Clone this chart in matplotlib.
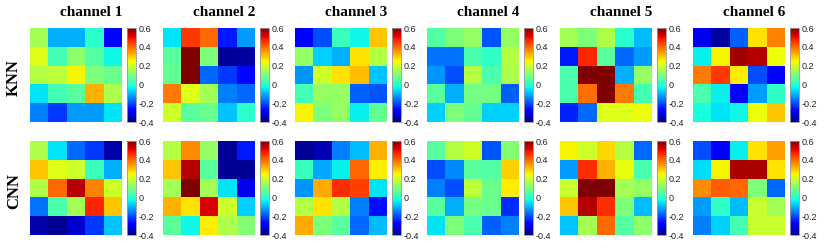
import numpy as np
import matplotlib
matplotlib.use('Agg')
import matplotlib.pyplot as plt

channels = ['channel 1', 'channel 2', 'channel 3', 'channel 4', 'channel 5', 'channel 6']
models = ['KNN', 'CNN']

# KNN weights, one 5x5 grid per channel
knn_ch1 = [[0.15, -0.10, -0.10, 0.00, -0.27],
           [0.22, 0.03, 0.12, 0.05, -0.03],
           [0.17, 0.18, 0.25, 0.10, 0.08],
           [-0.05, 0.03, 0.06, 0.32, 0.16],
           [-0.15, -0.22, -0.12, -0.12, -0.05]]
knn_ch2 = [[-0.05, 0.45, 0.40, -0.25, -0.12],
           [0.06, 0.60, 0.10, -0.38, -0.37],
           [0.07, 0.60, -0.17, -0.22, -0.27],
           [0.38, 0.22, 0.15, -0.15, -0.17],
           [0.20, 0.06, 0.08, -0.08, 0.00]]
knn_ch3 = [[-0.28, -0.20, 0.02, -0.03, 0.30],
           [0.13, -0.07, -0.10, 0.27, 0.17],
           [-0.13, 0.20, 0.27, 0.31, -0.08],
           [0.03, 0.13, 0.13, -0.18, -0.19],
           [0.25, 0.10, 0.13, -0.04, 0.07]]
knn_ch4 = [[0.05, 0.10, 0.13, -0.19, 0.13],
           [-0.16, -0.16, 0.04, 0.01, 0.17],
           [-0.13, -0.20, 0.17, 0.04, 0.16],
           [0.06, -0.10, 0.09, 0.09, -0.18],
           [-0.07, 0.10, 0.07, -0.07, -0.07]]
knn_ch5 = [[0.15, 0.10, 0.16, 0.00, -0.09],
           [-0.25, 0.47, 0.06, -0.17, -0.12],
           [0.04, 0.60, 0.60, -0.10, 0.13],
           [0.04, 0.39, 0.60, 0.38, 0.03],
           [-0.24, -0.17, 0.22, 0.22, 0.24]]
knn_ch6 = [[-0.30, -0.37, -0.18, 0.27, 0.37],
           [-0.04, 0.25, 0.57, 0.55, 0.24],
           [0.38, 0.45, 0.26, -0.20, -0.27],
           [0.04, -0.04, -0.28, -0.12, 0.01],
           [-0.02, -0.05, -0.03, 0.24, 0.30]]

# CNN weights
cnn_ch1 = [[0.16, -0.05, -0.17, -0.22, -0.36],
           [0.30, 0.22, 0.20, 0.02, -0.10],
           [0.16, 0.40, 0.55, 0.37, 0.20],
           [-0.16, 0.04, 0.15, 0.47, 0.30],
           [-0.36, -0.38, -0.33, -0.22, -0.08]]
cnn_ch2 = [[0.17, 0.36, 0.13, -0.38, -0.25],
           [0.30, 0.55, 0.06, -0.38, -0.38],
           [0.15, 0.60, 0.15, -0.05, -0.30],
           [0.32, 0.27, 0.52, 0.20, -0.07],
           [0.06, -0.03, 0.26, 0.16, 0.11]]
cnn_ch3 = [[-0.38, -0.35, -0.15, -0.09, 0.32],
           [0.02, -0.11, -0.04, 0.40, 0.26],
           [-0.13, 0.33, 0.46, 0.44, -0.05],
           [0.17, 0.27, 0.17, -0.15, -0.26],
           [0.33, 0.10, 0.06, -0.17, -0.09]]
cnn_ch4 = [[0.06, 0.17, 0.20, -0.19, 0.11],
           [-0.20, -0.14, 0.06, 0.05, 0.29],
           [-0.15, -0.20, 0.18, 0.08, 0.26],
           [0.06, -0.10, 0.09, 0.08, -0.23],
           [-0.05, 0.10, 0.04, -0.18, -0.15]]
cnn_ch5 = [[0.25, 0.20, 0.28, 0.17, -0.17],
           [-0.12, 0.46, 0.32, 0.23, 0.04],
           [0.19, 0.60, 0.60, 0.15, 0.13],
           [0.30, 0.55, 0.46, 0.10, -0.09],
           [-0.08, 0.15, 0.40, 0.05, 0.12]]
cnn_ch6 = [[-0.20, -0.28, -0.04, 0.27, 0.34],
           [-0.06, 0.25, 0.56, 0.56, 0.27],
           [0.36, 0.41, 0.40, 0.10, -0.17],
           [-0.12, 0.01, -0.09, 0.19, 0.15],
           [-0.15, -0.07, 0.03, 0.19, 0.19]]

knn_maps = [knn_ch1, knn_ch2, knn_ch3, knn_ch4, knn_ch5, knn_ch6]
cnn_maps = [cnn_ch1, cnn_ch2, cnn_ch3, cnn_ch4, cnn_ch5, cnn_ch6]
cbar_ticks = [-0.4, -0.2, 0, 0.2, 0.4, 0.6]
cbar_labels = ['-0.4', '-0.2', '0', '0.2', '0.4', '0.6']
vmin, vmax = -0.4, 0.6

W, H = 830, 249
fig = plt.figure(figsize=(W / 100, H / 100), dpi=100)


def px_axes(x0, y0, w, h):
    # pixel box (top-left origin) -> figure fraction
    return fig.add_axes([x0 / W, 1 - (y0 + h) / H, w / W, h / H])


serif = ['Liberation Serif', 'DejaVu Serif']
sans = ['Liberation Sans', 'DejaVu Sans']
col_x = [30, 163, 295, 427, 560, 693]
row_y = [28, 141]
hm_w, hm_h = 92, 94

for r, maps in enumerate([knn_maps, cnn_maps]):
    for c, data in enumerate(maps):
        x0 = col_x[c]
        y0 = row_y[r]
        ax = px_axes(x0, y0, hm_w, hm_h)
        im = ax.imshow(np.array(data), cmap='jet', vmin=vmin, vmax=vmax,
                       aspect='auto', interpolation='nearest')
        ax.set_xticks([])
        ax.set_yticks([])
        for s in ax.spines.values():
            s.set_visible(False)

        cax = px_axes(x0 + hm_w + 5, y0, 9, hm_h)
        cb = fig.colorbar(im, cax=cax, ticks=cbar_ticks)
        cb.ax.set_yticklabels(cbar_labels, family=sans)
        cb.ax.tick_params(labelsize=6.5, length=0, pad=2, colors='#222222')
        cb.outline.set_edgecolor('#999999')
        cb.outline.set_linewidth(0.6)

        if r == 0:
            fig.text((x0 + 61) / W, 1 - 12.5 / H, channels[c], ha='center', va='center',
                     fontsize=11, fontweight='bold', family=serif)

    fig.text(14 / W, 1 - (row_y[r] + hm_h / 2 + 3) / H, models[r], rotation=90,
             ha='center', va='center', fontsize=12, fontweight='bold', family=serif)

fig.savefig('out.png', dpi=100)
